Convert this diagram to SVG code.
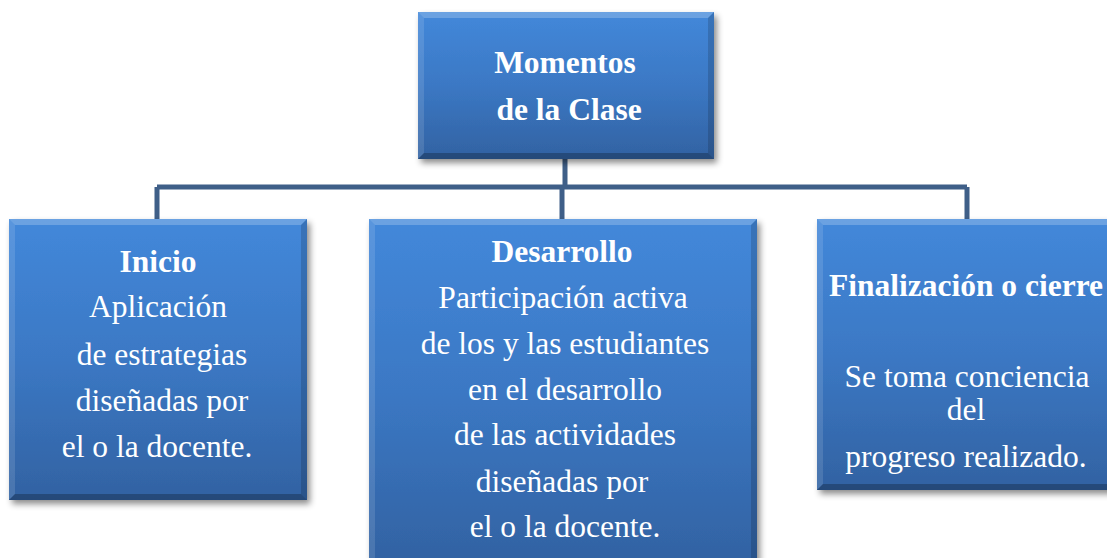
<svg xmlns="http://www.w3.org/2000/svg" width="1107" height="558" viewBox="0 0 1107 558">
<defs>
<linearGradient id="g" x1="0" y1="0" x2="0" y2="1">
<stop offset="0" stop-color="#4388da"/>
<stop offset="0.5" stop-color="#3b78c4"/>
<stop offset="1" stop-color="#3262a2"/>
</linearGradient>
<filter id="sh" x="-10%" y="-10%" width="125%" height="125%">
<feDropShadow dx="3" dy="4" stdDeviation="3" flood-color="#000" flood-opacity="0.45"/>
</filter>
</defs>
<style>
.box{fill:url(#g);filter:url(#sh)}
.bt{fill:#ffffff;opacity:0.22}
.bl{fill:#ffffff;opacity:0.12}
.br{fill:#000000;opacity:0.15}
.bb{fill:#000000;opacity:0.25}
.conn{fill:none;stroke:#3f5f88;stroke-width:5}
text{font-family:"Liberation Serif","Times New Roman",serif;fill:#ffffff;font-size:31.5px;text-anchor:middle}
.b{font-weight:bold}
</style>
<g id="connectors">
<path class="conn" d="M565 158 V187 M157 187 H967 M157 187 V219 M562 187 V219 M967 187 V219"/>
</g>
<g id="momentos">
<rect class="box" x="418" y="12" width="296" height="147"/>
<polygon class="bt" points="418,12 714,12 708,18 424,18"/>
<polygon class="bl" points="418,12 424,18 424,153 418,159"/>
<polygon class="br" points="714,12 714,159 708,153 708,18"/>
<polygon class="bb" points="418,159 714,159 708,153 424,153"/>
<text class="b" x="565" y="73">Momentos</text>
<text class="b" x="569" y="120">de la Clase</text>
</g>
<g id="inicio">
<rect class="box" x="9" y="219" width="298" height="281"/>
<polygon class="bt" points="9,219 307,219 301,225 15,225"/>
<polygon class="bl" points="9,219 15,225 15,494 9,500"/>
<polygon class="br" points="307,219 307,500 301,494 301,225"/>
<polygon class="bb" points="9,500 307,500 301,494 15,494"/>
<text class="b" x="158" y="272">Inicio</text>
<text x="158" y="317">Aplicación</text>
<text x="162" y="365">de estrategias</text>
<text x="162" y="411">diseñadas por</text>
<text x="157" y="457">el o la docente.</text>
</g>
<g id="desarrollo">
<rect class="box" x="369" y="219" width="388" height="345"/>
<polygon class="bt" points="369,219 757,219 751,225 375,225"/>
<polygon class="bl" points="369,219 375,225 375,564 369,564"/>
<polygon class="br" points="757,219 757,564 751,564 751,225"/>
<text class="b" x="562" y="262">Desarrollo</text>
<text x="563" y="308">Participación activa</text>
<text x="565" y="354">de los y las estudiantes</text>
<text x="565" y="400">en el desarrollo</text>
<text x="565" y="445">de las actividades</text>
<text x="562" y="492">diseñadas por</text>
<text x="565" y="537">el o la docente.</text>
</g>
<g id="finalizacion">
<rect class="box" x="817" y="219" width="300" height="271"/>
<polygon class="bt" points="817,219 1117,219 1111,225 823,225"/>
<polygon class="bl" points="817,219 823,225 823,484 817,490"/>
<polygon class="bb" points="817,490 1117,490 1111,484 823,484"/>
<text class="b" x="966" y="296">Finalización o cierre</text>
<text x="967" y="387">Se toma conciencia</text>
<text x="966" y="420">del</text>
<text x="966" y="467">progreso realizado.</text>
</g>
</svg>
